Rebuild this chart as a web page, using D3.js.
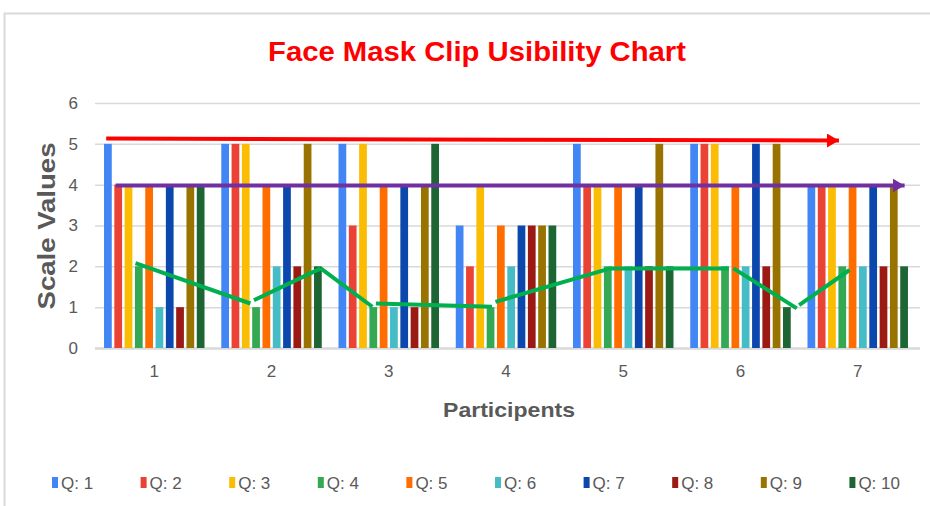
<!DOCTYPE html>
<html>
<head>
<meta charset="utf-8">
<script src="https://cdn.jsdelivr.net/npm/d3@7"></script>
<style>
  body { margin: 0; background: #fff; }
  text { font-family: "Liberation Sans", Arial, sans-serif; }
</style>
</head>
<body>
<div class="chart"></div>
<script>
// data
var participants = ["1", "2", "3", "4", "5", "6", "7"];
var questions = ["Q: 1", "Q: 2", "Q: 3", "Q: 4", "Q: 5", "Q: 6", "Q: 7", "Q: 8", "Q: 9", "Q: 10"];
var scores = [
  [5, 4, 4, 2, 4, 1, 4, 1, 4, 4],
  [5, 5, 5, 1, 4, 2, 4, 2, 5, 2],
  [5, 3, 5, 1, 4, 1, 4, 1, 4, 5],
  [3, 2, 4, 1, 3, 2, 3, 3, 3, 3],
  [5, 4, 4, 2, 4, 2, 4, 2, 5, 2],
  [5, 5, 5, 2, 4, 2, 5, 2, 5, 1],
  [4, 4, 4, 2, 4, 2, 4, 2, 4, 2]
];
var colors = ["#4285f4", "#ea4335", "#fbbc04", "#34a853", "#ff6d01",
              "#46bdc6", "#0b47ad", "#9b1a14", "#997300", "#1e6534"];
var yTicks = [0, 1, 2, 3, 4, 5, 6];

// hand-drawn overlays: [participant position, scale value]
var redArrow = [[0.59, 5.13], [6.84, 5.08]];
var purpleArrow = [[0.67, 3.98], [7.4, 3.98]];
var greenSegments = [
  [[0.84, 2.08], [1.82, 1.09]],
  [[1.85, 1.17], [2.42, 1.95]],
  [[2.42, 1.95], [2.86, 1.01]],
  [[2.89, 1.09], [3.88, 1.01]],
  [[3.91, 1.13], [4.89, 1.95]],
  [[4.89, 1.95], [5.90, 1.95]],
  [[5.94, 1.95], [6.48, 0.97]],
  [[6.50, 1.05], [6.93, 1.91]]
];

var svgWidth = 930, svgHeight = 506;
var plot = { left: 97, right: 915, top: 103, bottom: 348 };

var svg = d3.select(".chart").append("svg")
  .attr("width", svgWidth)
  .attr("height", svgHeight);

// frame of the original screenshot
svg.append("path")
  .attr("d", "M4.5,506 V13.5 H930")
  .attr("fill", "none")
  .attr("stroke", "#d9d9d9")
  .attr("stroke-width", 2);

var x0 = d3.scaleBand().domain(participants)
  .range([plot.left, plot.right])
  .paddingInner(0.143).paddingOuter(0.06);
var x1 = d3.scaleBand().domain(questions)
  .range([0, x0.bandwidth()])
  .paddingInner(0.25).paddingOuter(0);
var y = d3.scaleLinear().domain([0, 6]).range([plot.bottom, plot.top]);
var xPos = d3.scaleLinear().domain([1, 7])
  .range([x0("1") + x0.bandwidth() / 2, x0("7") + x0.bandwidth() / 2]);
var color = d3.scaleOrdinal().domain(questions).range(colors);

// gridlines + y labels
var yAxis = svg.append("g")
  .attr("transform", "translate(95,0)")
  .call(d3.axisLeft(y).tickValues(yTicks).tickFormat(d3.format("d"))
    .tickSize(-825).tickPadding(17));
yAxis.select(".domain").remove();
yAxis.selectAll(".tick line")
  .attr("stroke", "#d9d9d9")
  .attr("stroke-width", d => d === 0 ? 2.5 : 1.5);
yAxis.selectAll(".tick text")
  .attr("fill", "#595959")
  .attr("font-size", "17px");

// bars
svg.append("g").selectAll("g")
  .data(scores)
  .enter().append("g")
  .attr("transform", (d, i) => `translate(${x0(participants[i])},0)`)
  .selectAll("rect")
  .data(d => d.map((v, j) => ({ q: questions[j], v: v })))
  .enter().append("rect")
  .attr("x", d => x1(d.q))
  .attr("width", x1.bandwidth())
  .attr("y", d => y(d.v))
  .attr("height", d => y(0) - y(d.v))
  .attr("fill", d => color(d.q));

// x labels
var xAxis = svg.append("g")
  .attr("transform", `translate(0,${plot.bottom})`)
  .call(d3.axisBottom(x0).tickSize(0).tickPadding(17));
xAxis.select(".domain").remove();
xAxis.selectAll(".tick text")
  .attr("fill", "#595959")
  .attr("font-size", "17px");

// arrow heads
var defs = svg.append("defs");
[["redHead", "#ff0000"], ["purpleHead", "#7030a0"]].forEach(function (m) {
  defs.append("marker")
    .attr("id", m[0])
    .attr("markerUnits", "userSpaceOnUse")
    .attr("viewBox", "0 -7 12 14")
    .attr("refX", 12).attr("refY", 0)
    .attr("markerWidth", 12).attr("markerHeight", 14)
    .attr("orient", "auto")
    .append("path")
    .attr("d", "M0,-7 L12,0 L0,7 Z")
    .attr("fill", m[1]);
});

var line = d3.line().x(d => xPos(d[0])).y(d => y(d[1]));

svg.append("path")
  .attr("d", line(redArrow))
  .attr("fill", "none")
  .attr("stroke", "#ff0000")
  .attr("stroke-width", 4)
  .attr("marker-end", "url(#redHead)");

svg.append("path")
  .attr("d", line(purpleArrow))
  .attr("fill", "none")
  .attr("stroke", "#7030a0")
  .attr("stroke-width", 4)
  .attr("marker-end", "url(#purpleHead)");

svg.append("g").selectAll("path")
  .data(greenSegments)
  .enter().append("path")
  .attr("d", line)
  .attr("fill", "none")
  .attr("stroke", "#00b050")
  .attr("stroke-width", 4);

// titles
svg.append("text")
  .attr("x", 477).attr("y", 61)
  .attr("text-anchor", "middle")
  .attr("fill", "#ff0000")
  .attr("font-size", "27px")
  .attr("font-weight", "bold")
  .attr("textLength", 418)
  .attr("lengthAdjust", "spacingAndGlyphs")
  .text("Face Mask Clip Usibility Chart");

svg.append("text")
  .attr("transform", "translate(55,226) rotate(-90)")
  .attr("text-anchor", "middle")
  .attr("fill", "#595959")
  .attr("font-size", "23px")
  .attr("font-weight", "bold")
  .attr("textLength", 167)
  .attr("lengthAdjust", "spacingAndGlyphs")
  .text("Scale Values");

svg.append("text")
  .attr("x", 509).attr("y", 417)
  .attr("text-anchor", "middle")
  .attr("fill", "#595959")
  .attr("font-size", "21px")
  .attr("font-weight", "bold")
  .attr("textLength", 132)
  .attr("lengthAdjust", "spacingAndGlyphs")
  .text("Participents");

// legend
var legend = svg.append("g").selectAll("g")
  .data(questions)
  .enter().append("g")
  .attr("transform", (d, i) => `translate(${52 + i * 88.6},483)`);
legend.append("rect")
  .attr("x", 0).attr("y", -6)
  .attr("width", 6).attr("height", 11)
  .attr("fill", d => color(d));
legend.append("text")
  .attr("x", 9).attr("y", 6)
  .attr("fill", "#595959")
  .attr("font-size", "17px")
  .text(d => d);
</script>
</body>
</html>
